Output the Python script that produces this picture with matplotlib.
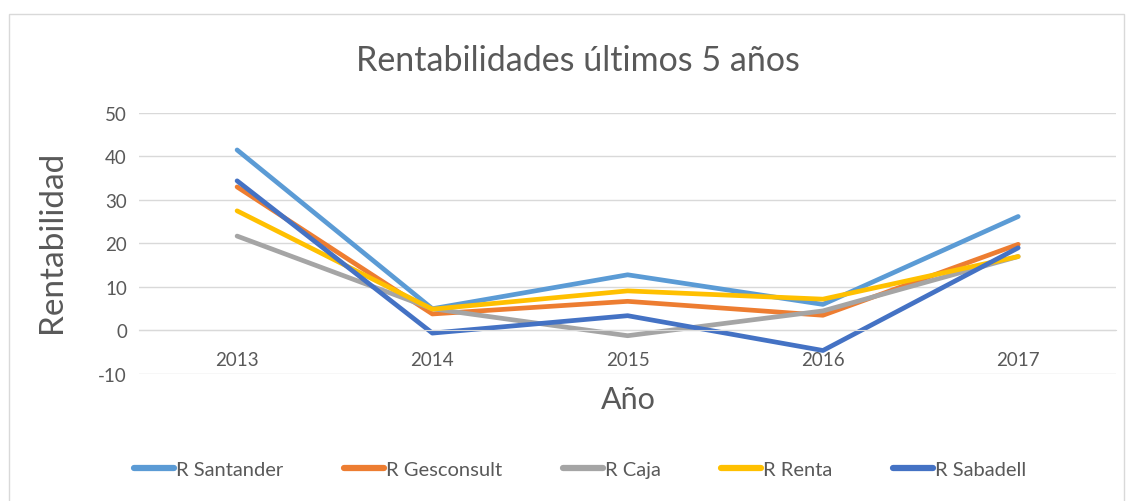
import matplotlib.pyplot as plt
from matplotlib.patches import Rectangle

plt.rcParams['font.family'] = ['Lato', 'DejaVu Sans']
plt.rcParams['axes.unicode_minus'] = False

## data
years = [2013, 2014, 2015, 2016, 2017]
r_santander = [41.5, 5.0, 12.8, 6.0, 26.2]
r_gesconsult = [33.0, 3.8, 6.7, 3.5, 19.8]
r_caja = [21.7, 5.0, -1.2, 4.5, 17.0]
r_renta = [27.5, 4.9, 9.1, 7.2, 17.0]
r_sabadell = [34.4, -0.6, 3.4, -4.6, 19.0]

series = [
	("R Santander", r_santander, "#5B9BD5"),
	("R Gesconsult", r_gesconsult, "#ED7D31"),
	("R Caja", r_caja, "#A5A5A5"),
	("R Renta", r_renta, "#FFC000"),
	("R Sabadell", r_sabadell, "#4472C4"),
	]

## plot
fig = plt.figure(
	figsize=(11.31, 5.02),
	dpi=100)
ax = fig.add_axes([0.1233, 0.253, 0.8633, 0.520])

for label, values, color in series:
	ax.plot(
		years,
		values,
		color=color,
		linewidth=3.4,
		solid_capstyle="round",
		label=label)

ax.set_xlim([2012.5, 2017.5])
ax.set_ylim([-10, 50])
ax.set_yticks([-10, 0, 10, 20, 30, 40, 50])
ax.set_xticks(years)
ax.grid(
	axis="y",
	color="#d9d9d9",
	linewidth=1.0)
ax.set_axisbelow(True)
for side in ["left", "right", "top"]:
	ax.spines[side].set_visible(False)
ax.spines["bottom"].set_position(("data", 0))
ax.spines["bottom"].set_color("#d9d9d9")
ax.tick_params(
	axis="x",
	length=0,
	pad=15,
	labelsize=13.5,
	labelcolor="#595959")
ax.tick_params(
	axis="y",
	length=0,
	pad=9,
	labelsize=13.5,
	labelcolor="#595959")

fig.text(
	0.511, 0.878,
	"Rentabilidades últimos 5 años",
	ha="center",
	va="center",
	fontsize=24.5,
	color="#595959")
fig.text(
	0.556, 0.203,
	"Año",
	ha="center",
	va="center",
	fontsize=22,
	color="#595959")
fig.text(
	0.046, 0.518,
	"Rentabilidad",
	ha="center",
	va="center",
	rotation=90,
	fontsize=24,
	color="#595959")

## legend
leg = fig.legend(
	loc="center",
	bbox_to_anchor=(0.513, 0.062),
	ncol=5,
	frameon=False,
	fontsize=14.5,
	handlelength=2.0,
	handletextpad=0.1,
	columnspacing=3.0,
	labelcolor="#595959")
for line in leg.get_lines():
	line.set_linewidth(4.5)

## outer border
fig.patches.append(Rectangle(
	(0.008, -0.01), 0.986, 0.98,
	transform=fig.transFigure,
	fill=False,
	edgecolor="#d9d9d9",
	linewidth=1.0))

fig.savefig("out.png", dpi=100)
plt.close()
